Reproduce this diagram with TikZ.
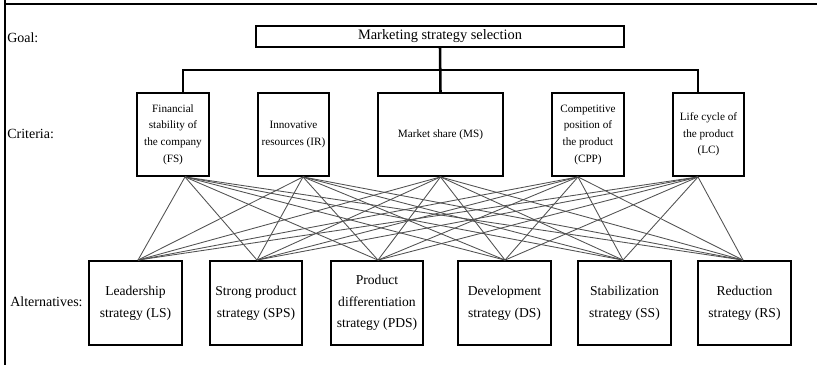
\documentclass[tikz,border=0pt]{standalone}
\usepackage{fontspec}
\setmainfont{Liberation Serif}
\begin{document}
\begin{tikzpicture}[x=0.75pt,y=-0.75pt,
  box/.style={draw=black,line width=1.4pt,inner sep=0pt,align=center},
  critbox/.style={box,minimum height=62.25pt,font=\fontsize{8.4}{12.5}\selectfont},
  altbox/.style={box,minimum width=69.5pt,minimum height=63pt,font=\fontsize{10.2}{16.3}\selectfont},
  levellabel/.style={anchor=west,inner sep=0pt,font=\fontsize{10.5}{13}\selectfont},
  tree/.style={line width=1.9pt},
  mesh/.style={draw=black!68,line width=0.65pt},
  frame/.style={line width=1.1pt}]
\useasboundingbox (0,0) rectangle (817,365);

% page frame
\draw[frame] (5,0) -- (5,365);
\draw[frame] (4.5,4) -- (817,4);

% level labels
\node[levellabel] (lgoal) at (7,38) {Goal:};
\node[levellabel] (lcrit) at (7,134) {Criteria:};
\node[levellabel] (lalt) at (10,302) {Alternatives:};

% goal
\node[box,minimum width=276pt,minimum height=15.75pt,font=\fontsize{10.8}{13}\selectfont] (goal) at (440,36.5) {Marketing strategy selection};

% criteria
\node[critbox,minimum width=54pt] (fs) at (173,134.5) {Financial\\stability of\\the company\\(FS)};
\node[critbox,minimum width=53.25pt] (ir) at (293.5,134.5) {Innovative\\resources (IR)};
\node[critbox,minimum width=93.75pt] (ms) at (440.5,134.5) {Market share (MS)};
\node[critbox,minimum width=54pt] (cpp) at (588,134.5) {Competitive\\position of\\the product\\(CPP)};
\node[critbox,minimum width=53.25pt] (lc) at (708.5,134.5) {Life cycle of\\the product\\(LC)};

% alternatives
\node[altbox] (ls) at (135.5,303) {Leadership\\strategy (LS)};
\node[altbox] (sps) at (256,303) {Strong product\\strategy (SPS)};
\node[altbox] (pds) at (377,303) {Product\\differentiation\\strategy (PDS)};
\node[altbox] (ds) at (504.5,303) {Development\\strategy (DS)};
\node[altbox] (ss) at (624.5,303) {Stabilization\\strategy (SS)};
\node[altbox] (rs) at (744.5,303) {Reduction\\strategy (RS)};

% attachment points of the tree
\path (fs.north) ++(10,0) coordinate (fsT);
\path (lc.north) ++(-10.5,0) coordinate (lcT);
\coordinate (bus) at (goal.south |- 0,70);

% attachment points of the mesh
\path (fs.south) ++(12,0) coordinate (fsB);
\path (ir.south) ++(9.5,0) coordinate (irB);
\path (ms.south) coordinate (msB);
\path (cpp.south) ++(-10,0) coordinate (cppB);
\path (lc.south) ++(-10.5,0) coordinate (lcB);
\path (ls.north) ++(2.5,0) coordinate (lsT);
\path (sps.north) ++(1,0) coordinate (spsT);
\path (pds.north) ++(1,0) coordinate (pdsT);
\path (ds.north) ++(0.5,0) coordinate (dsT);
\path (ss.north) ++(-1.5,0) coordinate (ssT);
\path (rs.north) ++(-1.5,0) coordinate (rsT);

% criteria to alternatives
\foreach \c in {fsB,irB,msB,cppB,lcB}
  \foreach \a in {lsT,spsT,pdsT,dsT,ssT,rsT}
    \draw[mesh] (\c) -- (\a);

% goal to criteria
\draw[tree] (goal.south) -- (ms.north);
\draw[tree] (fsT) -- (fsT |- bus) -- (lcT |- bus) -- (lcT);
\end{tikzpicture}
\end{document}
